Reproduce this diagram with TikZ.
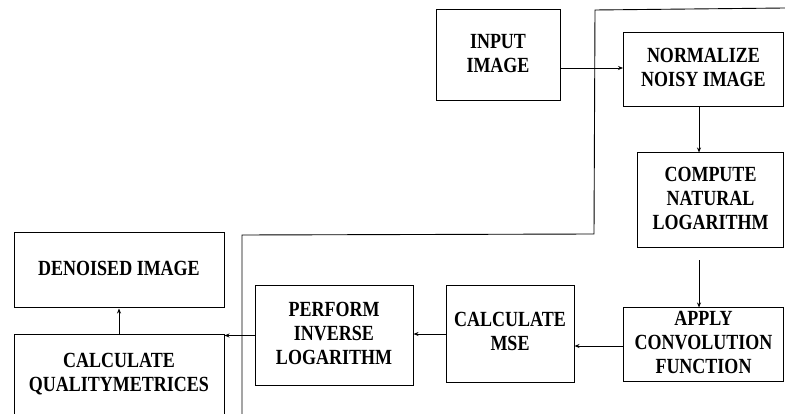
\documentclass[tikz,border=0pt]{standalone}
\usepackage{graphicx}
\usepackage{fontspec}
\setmainfont{Liberation Serif}
\usetikzlibrary{arrows.meta,positioning,calc}
\newcommand{\boxtext}[1]{\scalebox{1}[1.2]{\begin{tabular}{@{}c@{}}#1\end{tabular}}}
\tikzset{
    block/.style = {
        draw,
        line width=1pt,
        inner sep=0pt,
        font=\fontsize{18}{20}\selectfont\bfseries,
        },
    flow/.style = {
        line width=0.9pt,
        -{Stealth[length=5pt,width=4pt]},
        },
    frame line/.style = {
        line width=0.9pt,
        },
}
\begin{document}
\begin{tikzpicture}[x=1pt,y=-1pt]
    \useasboundingbox (0,0) rectangle (785,414);
    \clip (0,0) rectangle (785,414);

    \node[block, minimum width=124pt, minimum height=91pt] (input) at (498,55.5) {\boxtext{INPUT\\IMAGE}};
    \node[block, minimum width=160pt, minimum height=74pt] (normalize) at (703.5,70) {\boxtext{NORMALIZE\\NOISY IMAGE}};
    \node[block, minimum width=146pt, minimum height=95pt] (natlog) at (710.5,200.5) {\boxtext{COMPUTE\\NATURAL\\LOGARITHM}};
    \node[block, minimum width=160pt, minimum height=73pt] (conv) at (703.5,344.5) {\boxtext{APPLY\\CONVOLUTION\\FUNCTION}};
    \node[block, minimum width=128pt, minimum height=96pt] (mse) at (510,334) {\boxtext{CALCULATE\\MSE}};
    \node[block, minimum width=158pt, minimum height=99pt] (invlog) at (334,335.5) {\boxtext{PERFORM\\INVERSE\\LOGARITHM}};
    \node[block, minimum width=210pt, minimum height=75pt] (denoised) at (119,270.5) {\boxtext{DENOISED IMAGE}};
    \node[block, minimum width=210pt, minimum height=82pt] (quality) at (119,375) {\boxtext{CALCULATE\\QUALITYMETRICES}};

    % outline round the upper steps
    \draw[frame line] (785,8) -- (595,10) -- (594,234) -- (242,235) -- (242,414);

    \draw[flow] ([yshift=2pt]input.east |- normalize.west) -- ([yshift=2pt]normalize.west);
    \draw[flow] ([xshift=-4.5pt]normalize.south) -- ([xshift=-4.5pt]normalize.south |- natlog.north);
    \draw[flow] ([xshift=-11.5pt,yshift=-12pt]natlog.south) -- ([xshift=-11.5pt]natlog.south |- conv.north);
    \draw[flow] ([yshift=-1.5pt]conv.west) -- ([yshift=-1.5pt]conv.west -| mse.east);
    \draw[flow] (mse.west) -- (mse.west -| invlog.east);
    \draw[flow] (invlog.west) -- (invlog.west -| quality.east);
    \draw[flow] (quality.north) -- (denoised.south);
\end{tikzpicture}
\end{document}
